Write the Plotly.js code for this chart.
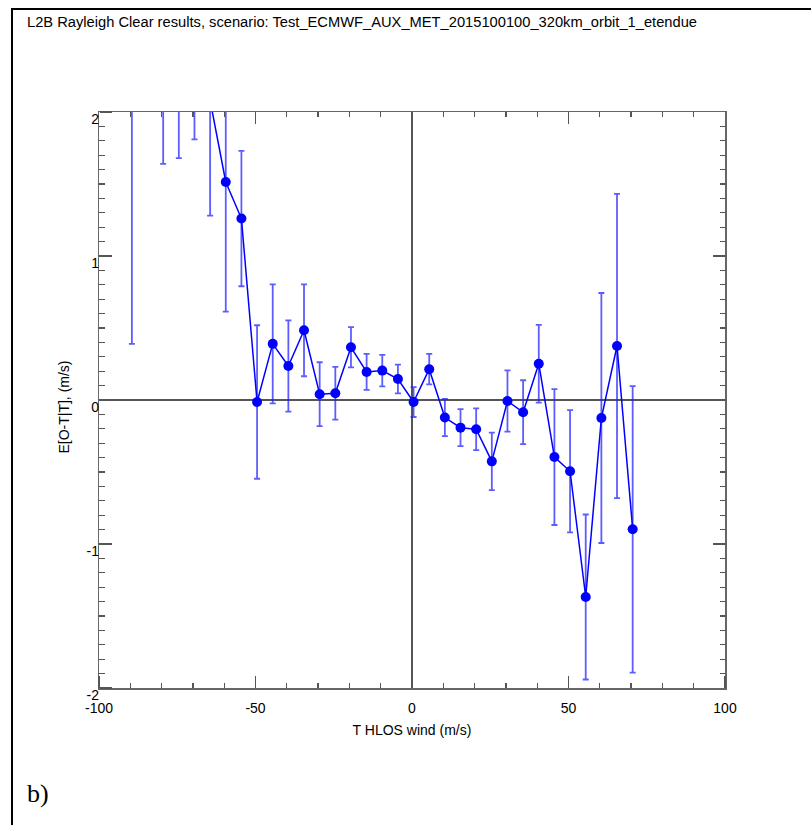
<!DOCTYPE html>
<html>
<head>
<meta charset="utf-8">
<script src="https://cdn.plot.ly/plotly-3.0.1.min.js"></script>
<style>
  html, body { margin: 0; padding: 0; background: #fff; }
  #wrap { position: relative; width: 811px; height: 825px; overflow: hidden; background: #fff; }
  #frame { position: absolute; left: 11px; top: 8px; width: 820px; height: 840px;
           border-left: 2px solid #000; border-top: 2px solid #000; pointer-events: none; }
  #chart { position: absolute; left: 0; top: 0; width: 811px; height: 825px; }
</style>
</head>
<body>
<div id="wrap">
  <div id="chart"></div>
  <div id="frame"></div>
</div>
<script>
// T HLOS wind bin positions (m/s)
const hlosWind = [-89.5, -79.5, -74.5, -69.5, -64.5, -59.5, -54.5, -49.5, -44.5, -39.5,
                  -34.5, -29.5, -24.5, -19.5, -14.5, -9.5, -4.5, 0.5, 5.5, 10.5,
                  15.5, 20.5, 25.5, 30.5, 35.5, 40.5, 45.5, 50.5, 55.5, 60.5, 65.5, 70.5];
// E[O-T|T] (m/s)
const meanBias = [2.9, 2.4, 2.5, 2.3, 2.08, 1.514, 1.26, -0.014, 0.39, 0.236,
                  0.484, 0.040, 0.047, 0.366, 0.195, 0.204, 0.146, -0.014, 0.214, -0.122,
                  -0.192, -0.203, -0.426, -0.007, -0.085, 0.252, -0.396, -0.495, -1.368, -0.125, 0.375, -0.898];
// error bar half-length (m/s)
const biasErr = [2.51, 0.76, 0.82, 0.49, 0.80, 0.90, 0.47, 0.533, 0.413, 0.317,
                 0.319, 0.222, 0.183, 0.14, 0.125, 0.11, 0.10, 0.104, 0.106, 0.129,
                 0.128, 0.145, 0.20, 0.213, 0.222, 0.27, 0.472, 0.424, 0.573, 0.868, 1.057, 0.995];

const titleText = 'L2B Rayleigh Clear results, scenario: Test_ECMWF_AUX_MET_2015100100_320km_orbit_1_etendue';
const xTitle = 'T HLOS wind (m/s)';
const yTitle = 'E[O-T|T], (m/s)';
const panelLabel = 'b)';
const xTickVals = [-100, -50, 0, 50, 100];
const xTickText = ['-100', '-50', '0', '50', '100'];
const yTickVals = [-2, -1, 0, 1, 2];
const yTickText = ['-2', '-1', '0', '1', '2'];
const xRange = [-100, 100];
const yRange = [-2, 2];

// page geometry (px): plot box 99..725 x 112..688, paper area bottom at 725
const W = 811, H = 825, mL = 99, mR = 86, mT = 112, mB = 100;
const paperH = H - mT - mB;                 // 613
const plotBottom = 688;
const yDomLow = (H - mB - plotBottom) / paperH;   // bottom of plot box as paper fraction
const yLabelDrop = 7 / paperH;                     // y tick labels sit a little below their ticks
const xLabelAxisPos = (H - mB - 698) / paperH;     // x tick labels a bit further below the box

const trace = {
  type: 'scatter',
  mode: 'lines+markers',
  x: hlosWind,
  y: meanBias,
  line: { color: '#0000ff', width: 1.5 },
  marker: { color: '#0000ff', size: 10 },
  error_y: { type: 'data', array: biasErr, visible: true,
             color: 'rgba(30,30,255,0.72)', thickness: 1.8, width: 3 },
  cliponaxis: true,
  showlegend: false
};

// empty traces that only carry helper axes (labels/titles; left/bottom tick rows)
const labelCarrier = { type: 'scatter', mode: 'markers', x: [], y: [],
                       xaxis: 'x2', yaxis: 'y2', showlegend: false, hoverinfo: 'skip' };
const tickCarrier = { type: 'scatter', mode: 'markers', x: [], y: [],
                      xaxis: 'x3', yaxis: 'y3', showlegend: false, hoverinfo: 'skip' };

const axisFont = { family: 'Liberation Sans, Arial, sans-serif', size: 14, color: '#000' };
const tickCol = '#555';

function tickAxis(extra, range, vals, minorDtick, dir) {
  return Object.assign({
    range: range, tickmode: 'array', tickvals: vals,
    ticks: dir, ticklen: 12, tickwidth: 1.3, tickcolor: tickCol,
    minor: { dtick: minorDtick, ticks: dir, ticklen: 5, tickwidth: 1.3, tickcolor: tickCol },
    showgrid: false, showticklabels: false
  }, extra);
}

const layout = {
  width: W, height: H,
  margin: { l: mL, r: mR, t: mT, b: mB },
  paper_bgcolor: '#fff', plot_bgcolor: 'rgba(0,0,0,0)',
  font: axisFont,
  title: { text: titleText, x: 27 / W, xanchor: 'left', xref: 'container',
           y: 1 - 22 / H, yanchor: 'middle', yref: 'container',
           font: { family: 'Liberation Sans, Arial, sans-serif', size: 14.7, color: '#000' } },
  xaxis: tickAxis({ domain: [0, 1], showline: true, linecolor: '#666', linewidth: 1.5, mirror: 'ticks',
                    zeroline: true, zerolinecolor: '#555', zerolinewidth: 1.5 },
                  xRange, xTickVals, 10, 'inside'),
  yaxis: tickAxis({ domain: [yDomLow, 1], showline: true, linecolor: '#666', linewidth: 1.5, mirror: 'ticks',
                    zeroline: true, zerolinecolor: '#555', zerolinewidth: 1.5 },
                  yRange, yTickVals, 0.1, 'inside'),
  // tick rows along the bottom and left edges, pointing into the plot box
  xaxis3: tickAxis({ overlaying: 'x', anchor: 'free', position: yDomLow, side: 'top',
                     showline: false, zeroline: false }, xRange, xTickVals, 10, 'outside'),
  yaxis3: tickAxis({ overlaying: 'y', anchor: 'free', position: 0, side: 'right',
                     showline: false, zeroline: false }, yRange, yTickVals, 0.1, 'outside'),
  // label axes (tick labels and titles)
  xaxis2: {
    domain: [0, 1], anchor: 'free', position: xLabelAxisPos, side: 'bottom', range: xRange,
    tickmode: 'array', tickvals: xTickVals, ticktext: xTickText, ticks: '',
    showline: false, showgrid: false, zeroline: false, tickfont: axisFont,
    title: { text: xTitle, font: axisFont, standoff: 10 }
  },
  yaxis2: {
    domain: [yDomLow - yLabelDrop, 1 - yLabelDrop], anchor: 'free', position: 0, side: 'left',
    range: yRange, tickmode: 'array', tickvals: yTickVals, ticktext: yTickText, ticks: '',
    showline: false, showgrid: false, zeroline: false, tickfont: axisFont,
    title: { text: yTitle, font: axisFont, standoff: 12 }
  },
  annotations: [{
    text: panelLabel, xref: 'paper', yref: 'paper',
    x: (25 - mL) / (W - mL - mR), y: (H - mB - 793) / paperH, xanchor: 'left', yanchor: 'middle',
    showarrow: false,
    font: { family: 'Liberation Serif, Times New Roman, serif', size: 26, color: '#000' }
  }]
};

Plotly.newPlot('chart', [labelCarrier, tickCarrier, trace], layout, { displayModeBar: false, staticPlot: true });
</script>
</body>
</html>
